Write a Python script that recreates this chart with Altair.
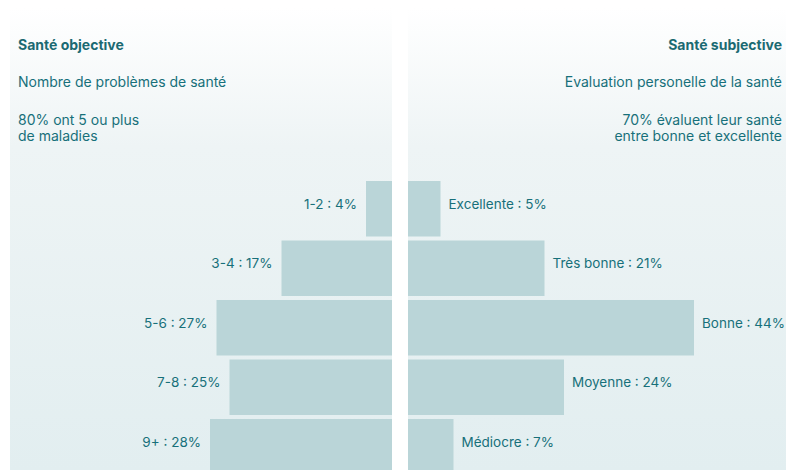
import altair as alt
import pandas as pd

# ---- data ----
left_categories = ["1-2", "3-4", "5-6", "7-8", "9+"]
left_values = [4, 17, 27, 25, 28]
right_categories = ["Excellente", "Très bonne", "Bonne", "Moyenne", "Médiocre"]
right_values = [5, 21, 44, 24, 7]

left_title = "Santé objective"
left_subtitle = "Nombre de problèmes de santé"
left_note = ["80% ont 5 ou plus", "de maladies"]
right_title = "Santé subjective"
right_subtitle = "Evaluation personelle de la santé"
right_note = ["70% évaluent leur santé", "entre bonne et excellente"]

# ---- style ----
FONT = "Inter"
TEXT = "#17707a"
TITLE = "#1b6a72"
BAR = "#bad5d8"
PX_PER_PCT = 6.5
LW, RW, H = 382, 378, 462
BAND_RANGE = [173, 466.5]

bg_gradient = alt.Gradient(
    gradient="linear",
    stops=[
        alt.GradientStop(color="#ffffff", offset=0),
        alt.GradientStop(color="#eef4f5", offset=0.3),
        alt.GradientStop(color="#e2eef0", offset=1),
    ],
    x1=0, x2=0, y1=0, y2=1,
)

left_df = pd.DataFrame({"cat": left_categories, "val": left_values})
left_df["label"] = left_df["cat"] + " : " + left_df["val"].astype(str) + "%"
right_df = pd.DataFrame({"cat": right_categories, "val": right_values})
right_df["label"] = right_df["cat"] + " : " + right_df["val"].astype(str) + "%"


def panel(df, categories, width, side, title, subtitle, note):
    left = side == "left"
    dom = [0, width / PX_PER_PCT]
    xscale = alt.Scale(domain=dom, range=[width, 0] if left else [0, width])
    yscale = alt.Scale(domain=categories, range=BAND_RANGE, paddingInner=0.067, paddingOuter=0)

    bg = alt.Chart(pd.DataFrame({"a": [0]})).mark_rect(color=bg_gradient).encode(
        x=alt.value(0), x2=alt.value(width), y=alt.value(0), y2=alt.value(H)
    )
    base = alt.Chart(df)
    bars = base.mark_bar(color=BAR, clip=True).encode(
        x=alt.X("val:Q", scale=xscale, axis=None),
        y=alt.Y("cat:N", scale=yscale, axis=None, sort=categories),
    )
    labels = base.mark_text(
        font=FONT, fontSize=13.5, color=TEXT,
        align="right" if left else "left", dx=-9 if left else 8, dy=-4, baseline="middle",
    ).encode(
        x=alt.X("val:Q", scale=xscale),
        y=alt.Y("cat:N", scale=yscale, sort=categories),
        text="label:N",
    )
    tx = 8 if left else width - 4
    align = "left" if left else "right"
    one = pd.DataFrame({"a": [0]})
    t1 = alt.Chart(one).mark_text(font=FONT, fontSize=14, fontWeight="bold", color=TITLE,
                                  align=align, baseline="middle").encode(
        x=alt.value(tx), y=alt.value(38), text=alt.value(title))
    t2 = alt.Chart(one).mark_text(font=FONT, fontSize=14, color=TEXT,
                                  align=align, baseline="middle").encode(
        x=alt.value(tx), y=alt.value(75), text=alt.value(subtitle))
    t3 = alt.Chart(one).mark_text(font=FONT, fontSize=14, color=TEXT,
                                  align=align, baseline="middle", lineHeight=16).encode(
        x=alt.value(tx), y=alt.value(112.5), text=alt.value(note))
    return alt.layer(bg, bars, labels, t1, t2, t3).properties(width=width, height=H)


left_panel = panel(left_df, left_categories, LW, "left", left_title, left_subtitle, left_note)
right_panel = panel(right_df, right_categories, RW, "right", right_title, right_subtitle, right_note)

chart = alt.hconcat(left_panel, right_panel, spacing=16).resolve_scale(
    x="independent", y="independent"
).properties(
    padding={"left": 10, "top": 8, "right": 0, "bottom": 0},
    background="#ffffff",
).configure_view(stroke=None).configure_concat(spacing=16)

chart.save("out.html", embed_options={"renderer": "svg", "actions": False})
